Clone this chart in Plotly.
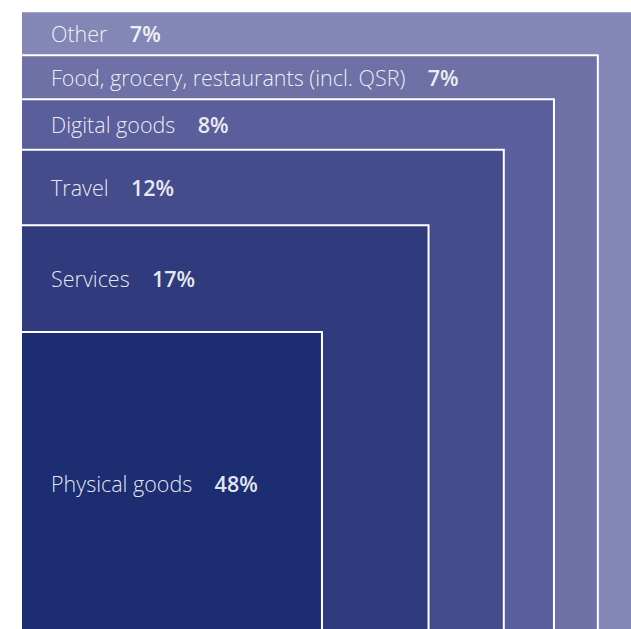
import plotly.graph_objects as go

# Data (inner to outer)
categories = ["Physical goods", "Services", "Travel", "Digital goods",
              "Food, grocery, restaurants (incl. QSR)", "Other"]
shares = [48, 17, 12, 8, 7, 7]
colors = ["#1C2D72", "#2F3B7C", "#444C8C", "#5A5E9B", "#6E70A6", "#8487B6"]

cum = []
t = 0
for s in shares:
    t += s
    cum.append(t)

W, H = 631, 629
ML = 21
SCALE_X = 6.27        # px per percentage point
SCALE_Y = 6.29
BOTTOM_PX = 634       # pixel where y = 0 lies (slightly below the window)

x_max = (W - ML) / SCALE_X
y_min = (BOTTOM_PX - H) / SCALE_Y
y_max = BOTTOM_PX / SCALE_Y

fig = go.Figure()

shapes = []
# draw outer first so inner squares lie on top
for i in reversed(range(len(categories))):
    shapes.append(dict(
        type="rect", xref="x", yref="y",
        x0=0, y0=0, x1=cum[i], y1=cum[i],
        fillcolor=colors[i],
        line=dict(color="white", width=2),
        layer="above",
    ))

annotations = []
for i, (cat, s) in enumerate(zip(categories, shares)):
    prev = cum[i - 1] if i > 0 else 0
    annotations.append(dict(
        x=5, y=(prev + cum[i]) / 2, xref="x", yref="y", xshift=-3,
        xanchor="left", yanchor="middle", showarrow=False,
        text=(f"{cat}\u00a0\u00a0\u00a0\u00a0"
              f"<span style=\"font-weight:600;fill:#ffffff\">{s}%</span>"),
        font=dict(family="Open Sans", size=21.5, weight=300,
                  color="rgba(255,255,255,0.9)"),
    ))

# invisible trace to establish axes
fig.add_trace(go.Scatter(x=[0, cum[-1]], y=[0, cum[-1]], mode="markers",
                         marker=dict(opacity=0), hoverinfo="skip",
                         showlegend=False))

fig.update_layout(
    width=W, height=H,
    margin=dict(l=ML, r=0, t=0, b=0, pad=0),
    paper_bgcolor="white", plot_bgcolor="white",
    shapes=shapes, annotations=annotations,
    xaxis=dict(range=[0, x_max], visible=False, showgrid=False,
               zeroline=False, fixedrange=True),
    yaxis=dict(range=[y_min, y_max], visible=False, showgrid=False,
               zeroline=False, fixedrange=True),
    hovermode=False,
)

fig.write_html("out.html")
